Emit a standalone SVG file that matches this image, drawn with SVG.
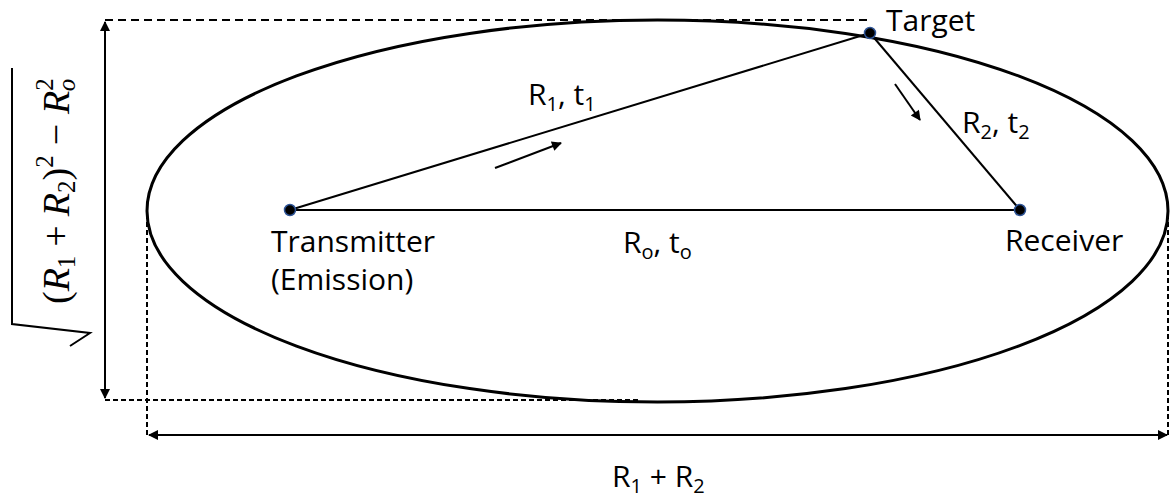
<svg xmlns="http://www.w3.org/2000/svg" width="1171" height="498" viewBox="0 0 1171 498">
<defs>
<marker id="ah" viewBox="0 0 10 10" refX="9" refY="5" markerWidth="12" markerHeight="10" markerUnits="userSpaceOnUse" orient="auto-start-reverse">
<path d="M0,0 L10,5 L0,10 z" fill="#000"/>
</marker>
<marker id="sa" viewBox="0 0 10 10" refX="9" refY="5" markerWidth="13" markerHeight="10" markerUnits="userSpaceOnUse" orient="auto">
<path d="M0,0 L10,5 L0,10 z" fill="#000"/>
</marker>
<style>
.lbl{font-family:"Open Sans","Liberation Sans",sans-serif;font-size:30px;fill:#000}
.sub{font-size:20px}
.math{font-family:"Liberation Serif","DejaVu Serif",serif;font-size:38px;fill:#000}
.it{font-style:italic}
.ms{font-size:25px}
.dash{fill:none;stroke:#000;stroke-width:2;stroke-dasharray:8,5}
.dashs{fill:none;stroke:#000;stroke-width:2;stroke-dasharray:5,3}
.dim{fill:none;stroke:#000;stroke-width:2}
.edge{fill:none;stroke:#000;stroke-width:2}
.dot{fill:#000;stroke:#2f5597;stroke-width:1.5}
</style>
</defs>

<g id="ellipse">
<ellipse cx="657.5" cy="211" rx="510.5" ry="191" fill="none" stroke="#000" stroke-width="3"/>
</g>

<g id="dimensions">
<path class="dash" d="M105,20 H868"/>
<path class="dashs" d="M105,400 H640"/>
<path class="dashs" d="M147,214 V436"/>
<path class="dashs" d="M1168,214 V436"/>
<line class="dim" x1="105" y1="22" x2="105" y2="398" marker-start="url(#ah)" marker-end="url(#ah)"/>
<line class="dim" x1="149" y1="435" x2="1167" y2="435" marker-start="url(#ah)" marker-end="url(#ah)"/>
</g>

<g id="connectors">
<line class="edge" x1="290" y1="210" x2="870" y2="33"/>
<line class="edge" x1="870" y1="33" x2="1020" y2="210"/>
<line class="edge" x1="290" y1="210" x2="1020" y2="210"/>
<line class="edge" x1="495" y1="168" x2="561" y2="143" marker-end="url(#sa)"/>
<line class="edge" x1="895" y1="84" x2="920" y2="120" marker-end="url(#sa)"/>
</g>

<g id="transmitter">
<circle class="dot" cx="290" cy="210" r="5.5"/>
<text class="lbl" x="271" y="252">Transmitter</text>
<text class="lbl" x="271" y="290">(Emission)</text>
</g>

<g id="target">
<circle class="dot" cx="870" cy="33" r="5.5"/>
<text class="lbl" x="886" y="31">Target</text>
</g>

<g id="receiver">
<circle class="dot" cx="1020" cy="210" r="5.5"/>
<text class="lbl" x="1005" y="251">Receiver</text>
</g>

<g id="labels">
<text class="lbl" x="528" y="105">R<tspan class="sub" dy="6">1</tspan><tspan dy="-6">, t</tspan><tspan class="sub" dy="6">1</tspan></text>
<text class="lbl" x="962" y="133">R<tspan class="sub" dy="6">2</tspan><tspan dy="-6">, t</tspan><tspan class="sub" dy="6">2</tspan></text>
<text class="lbl" x="623" y="253">R<tspan class="sub" dy="6">o</tspan><tspan dy="-6">, t</tspan><tspan class="sub" dy="6">o</tspan></text>
<text class="lbl" x="612" y="487">R<tspan class="sub" dy="6">1</tspan><tspan dy="-6"> + R</tspan><tspan class="sub" dy="6">2</tspan></text>
</g>

<g id="formula">
<path d="M12,68 V324 L90,333 L70,346" fill="none" stroke="#000" stroke-width="2"/>
<text class="math" transform="translate(69,304) rotate(-90)">(<tspan class="it">R</tspan><tspan class="ms" dy="6">1</tspan><tspan dy="-6" dx="9">+</tspan><tspan class="it" dx="9">R</tspan><tspan class="ms" dy="6">2</tspan><tspan dy="-6">)</tspan><tspan class="ms" dy="-16">2</tspan><tspan dy="16" dx="10">−</tspan><tspan class="it" dx="10">R</tspan><tspan class="ms" dy="-16">2</tspan><tspan class="ms it" dx="-13" dy="22">o</tspan></text>
</g>
</svg>
